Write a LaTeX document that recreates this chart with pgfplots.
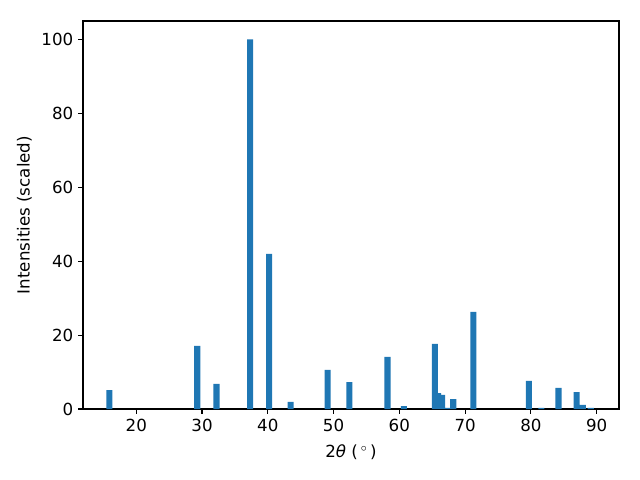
\documentclass[border=0pt]{standalone}
\usepackage{pgfplots}
\pgfplotsset{compat=1.18}
\usepackage{fontspec}
\setmainfont{DejaVu Sans}
\definecolor{mplblue}{HTML}{1F77B4}
\begin{document}
\begin{tikzpicture}
\path[use as bounding box] (-59.76pt,-51.12pt) rectangle (401.04pt,294.48pt);
\begin{axis}[
  at={(0,0)}, anchor=south west,
  scale only axis,
  width=385.92pt, height=279.36pt,
  xmin=11.9, xmax=93.4, ymin=0, ymax=105,
  xtick={20,30,...,90}, ytick={0,20,...,100},
  tick align=outside,
  major tick length=3.5pt,
  xtick pos=bottom, ytick pos=left,
  tick style={black, line width=0.8pt},
  axis line style={line width=0.8pt},
  /pgf/number format/assume math mode=true,
  ticklabel style={font=\fontsize{12}{14}\selectfont},
  label style={font=\fontsize{12}{14}\selectfont},
  xlabel={2\textit{θ} (\,$^\circ$\,)},
  ylabel={Intensities (scaled)},
  xlabel style={yshift=-2.5pt},
  ylabel style={yshift=0pt},
]
\addplot[ybar, bar width=0.92, bar shift=0pt, fill=mplblue, draw=none] coordinates {
(15.9,5.1) (29.27,17.1) (32.2,6.8) (37.3,100) (40.2,42.0) (43.47,1.9)
(49.1,10.6) (52.4,7.3) (58.2,14.1) (60.7,0.8) (65.4,17.6) (65.9,4.3)
(66.5,3.8) (67.45,0.3) (68.2,2.7) (71.25,26.3) (79.7,7.6) (81.6,0.3)
(84.2,5.7) (86.95,4.6) (87.9,1.1) (89.1,0.3)
};
\end{axis}
\end{tikzpicture}
\end{document}
